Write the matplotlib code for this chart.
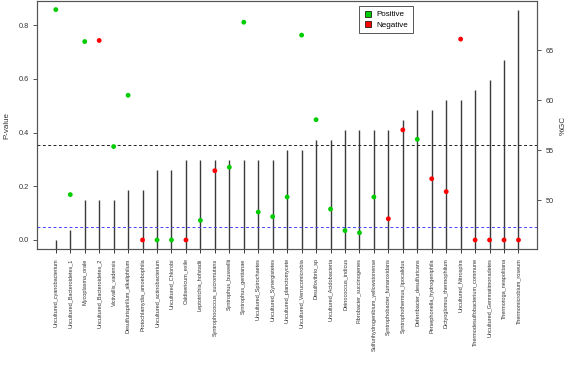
import matplotlib
matplotlib.use("Agg")
import matplotlib.pyplot as plt
from matplotlib.lines import Line2D

plt.rcParams["font.family"] = ["Liberation Sans", "DejaVu Sans"]

# species in plot order
species = [
    "Uncultured_cyanobacterium", "Uncultured_Bacteroidetes_1", "Mycoplasma_orale",
    "Uncultured_Bacteroidetes_2", "Victivallis_vadensis", "Desulfurispirillum_alkaliphilum",
    "Protochlamydia_amoebophila", "Uncultured_actinobacterium", "Uncultured_Chlorobi",
    "Caldisericum_exile", "Leptotrichia_hofstadii", "Syntrophococcus_sucromutans",
    "Syntrophus_buswellii", "Syntrophus_gentianae", "Uncultured_Spirochaetes",
    "Uncultured_Synergistetes", "Uncultured_planctomycete", "Uncultured_Verrucomicrobia",
    "Desulfovibrio_sp", "Uncultured_Acidobacteria", "Deinococcus_indicus",
    "Fibrobacter_succinogenes", "Sulfurihydrogenibium_yellowstonense",
    "Syntrophobacter_fumaroxidans", "Syntrophothermus_lipocalidus",
    "Deferribacter_desulfuricans", "Persephonella_hydrogeniphila",
    "Dictyoglomus_thermophilum", "Uncultured_Nitrospira",
    "Thermodesulfobacterium_commune", "Uncultured_Gemmatimonadetes",
    "Thermotoga_neapolitana", "Thermomicrobium_roseum",
]

# %GC per species
gc = [46, 47, 50, 50, 50, 51, 51, 53, 53, 54, 54, 54, 54, 54, 54, 54, 55, 55,
      56, 56, 57, 57, 57, 57, 58, 59, 59, 60, 60, 61, 62, 64, 69]

# p-values
pval = [0.858, 0.169, 0.739, 0.743, 0.348, 0.539, 0.0, 0.0, 0.0, 0.0, 0.073,
        0.258, 0.271, 0.811, 0.104, 0.087, 0.160, 0.763, 0.448, 0.115, 0.035,
        0.027, 0.160, 0.079, 0.410, 0.375, 0.228, 0.180, 0.748, 0.0, 0.0, 0.0, 0.0]

# direction of correlation: P = positive, N = negative
sign = ["P", "P", "P", "N", "P", "P", "N", "P", "P", "N", "P", "N", "P", "P",
        "P", "P", "P", "P", "P", "P", "P", "P", "P", "N", "N", "P", "N", "N",
        "N", "N", "N", "N", "N"]

gc_mean = 55.5
p_cut = 0.05

green = "#00CD00"
red = "#FF0000"
axcol = "#555555"

x = list(range(1, len(species) + 1))
cols = [green if s == "P" else red for s in sign]

fig = plt.figure(figsize=(5.67, 3.68), dpi=100)
ax = fig.add_axes([37.3 / 567, (368 - 249.3) / 368, (537 - 37.3) / 567, 248.3 / 368])
ax2 = ax.twinx()

# %GC lines (drawn from 0 like R type="h")
ax2.vlines(x, 0, gc, color="#3a3a3a", lw=1.0)
ax2.axhline(gc_mean, color="#222222", lw=0.7, ls=(0, (3, 2.5)))
ax2.set_ylim(45.08, 69.92)
ax2.set_yticks([50, 55, 60, 65])

# p-value points
ax.scatter(x, pval, c=cols, s=12, lw=0, zorder=3)
ax.axhline(p_cut, color="#4444ff", lw=0.7, ls=(0, (3, 2.5)))
ax.set_ylim(-0.0347, 0.89)
ax.set_yticks([0.0, 0.2, 0.4, 0.6, 0.8])
ax.set_yticklabels(["0.0", "0.2", "0.4", "0.6", "0.8"])
ax.set_xlim(-0.28, len(species) + 1.28)
ax.set_xticks(x)
ax.set_xticklabels(species, rotation=90)

ax.set_zorder(ax2.get_zorder() + 1)
ax.patch.set_visible(False)

for a in (ax, ax2):
    for sp in a.spines.values():
        sp.set_color(axcol)
        sp.set_linewidth(0.8)
    a.tick_params(axis="y", length=3.2, width=0.7, color=axcol, labelsize=5.3,
                  labelcolor="#333333", pad=3)
ax2.tick_params(axis="x", bottom=False, top=False, labelbottom=False)
ax.tick_params(axis="x", length=3, width=0.7, pad=3.5, color="#3a3a3a",
               labelsize=4.0, labelcolor="#333333")

ax.set_ylabel("P-value", fontsize=5.8, color="#333333", labelpad=6)
ax2.set_ylabel("%GC", fontsize=5.8, color="#333333", labelpad=4)

handles = [
    Line2D([], [], ls="none", marker="s", markersize=4, markerfacecolor=green,
           markeredgecolor="black", markeredgewidth=0.5),
    Line2D([], [], ls="none", marker="s", markersize=4, markerfacecolor=red,
           markeredgecolor="black", markeredgewidth=0.5),
]
leg = ax.legend(handles, ["Positive", "Negative"], loc="upper left",
                bbox_to_anchor=((359 - 37.3) / 499.7, (249.3 - 6) / 248.3),
                fontsize=5.8, frameon=True, fancybox=False, framealpha=1,
                edgecolor="#555555", handlelength=1.0, handletextpad=0.6,
                borderpad=0.6, labelspacing=0.3, borderaxespad=0)
leg.get_frame().set_linewidth(0.7)

fig.savefig("out.png", dpi=100)
